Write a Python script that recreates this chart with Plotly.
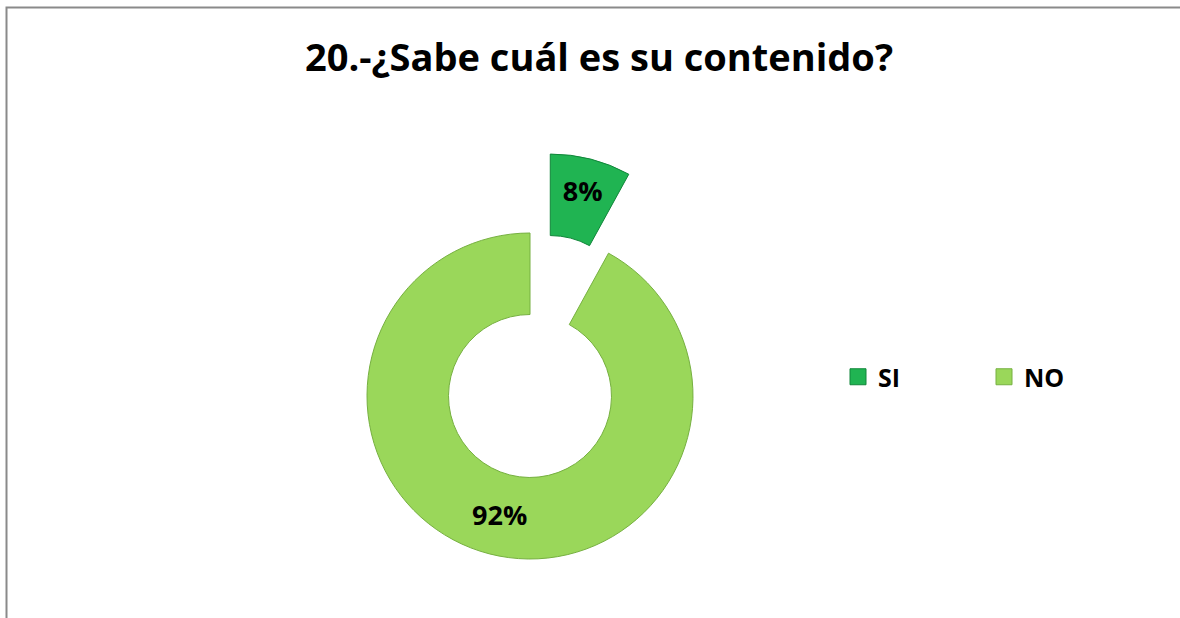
import math
import plotly.graph_objects as go

# ---- data ----
labels = ["SI", "NO"]
values = [8, 92]
colors = ["#20B452", "#9AD75A"]
edge_colors = ["#11863A", "#76B040"]
title_text = "20.-¿Sabe cuál es su contenido?"

W, H = 1180, 618
FONT = "Open Sans"

# ---- layout geometry (pixels) ----
cx, cy, R = 530.0, 396.0, 163.0
hole = 0.5
pull = 0.5
# mid-angle of the pulled slice (clockwise from 12 o'clock)
mid = (values[0] / sum(values)) * 360 / 2
dx = pull * R * math.sin(math.radians(mid))
dy = pull * R * math.cos(math.radians(mid))


def domain(cxp, cyp, r):
    return dict(
        x=[(cxp - r) / W, (cxp + r) / W],
        y=[1 - (cyp + r) / H, 1 - (cyp - r) / H],
    )


fig = go.Figure()

# main ring (NO slice visible, SI slice transparent)
fig.add_trace(go.Pie(
    labels=labels, values=values, sort=False, direction="clockwise", rotation=0,
    hole=hole, domain=domain(cx, cy, R),
    marker=dict(colors=["rgba(0,0,0,0)", colors[1]],
                line=dict(color=["rgba(0,0,0,0)", edge_colors[1]], width=1)),
    texttemplate=["", "%{percent:.0%}"], textposition="inside",
    insidetextorientation="horizontal",
    textfont=dict(family=FONT, size=27, color="black", weight="bold"),
    showlegend=False, hoverinfo="skip",
))

# pulled-out SI slice
fig.add_trace(go.Pie(
    labels=labels, values=values, sort=False, direction="clockwise", rotation=0,
    hole=hole, domain=domain(cx + dx, cy - dy, R),
    marker=dict(colors=[colors[0], "rgba(0,0,0,0)"],
                line=dict(color=[edge_colors[0], "rgba(0,0,0,0)"], width=1)),
    texttemplate=["%{percent:.0%}", ""], textposition="inside",
    insidetextorientation="horizontal",
    textfont=dict(family=FONT, size=27, color="black", weight="bold"),
    showlegend=False, hoverinfo="skip",
))

# legend entries
for lab, col, ec in zip(labels, colors, edge_colors):
    fig.add_trace(go.Scatter(
        x=[None], y=[None], mode="markers", name=lab,
        marker=dict(symbol="square", size=16, color=col, line=dict(color=ec, width=1)),
        showlegend=True, hoverinfo="skip",
    ))

fig.update_layout(
    width=W, height=H,
    margin=dict(l=0, r=0, t=0, b=0),
    paper_bgcolor="white", plot_bgcolor="white",
    xaxis=dict(visible=False), yaxis=dict(visible=False),
    title=dict(text=title_text, x=599 / W, xanchor="center",
               y=1 - 58 / H, yanchor="middle", yref="container", xref="container",
               font=dict(family=FONT, size=38, color="black", weight="bold")),
    legend=dict(orientation="h", x=838 / W, xanchor="left",
                y=1 - 377 / H, yanchor="middle",
                font=dict(family=FONT, size=25, color="black", weight="bold"),
                entrywidth=101, entrywidthmode="pixels",
                bgcolor="rgba(0,0,0,0)", itemwidth=30),
    shapes=[dict(type="rect", xref="paper", yref="paper",
                 x0=6.5 / W, x1=1.5, y0=-0.5, y1=1 - 7.5 / H,
                 line=dict(color="#8A8A8A", width=2), fillcolor="rgba(0,0,0,0)",
                 layer="below")],
)

fig.write_html(
    "out.html",
    config={"displayModeBar": False},
    post_script="document.body.style.margin='0';document.body.style.overflow='hidden';",
)
